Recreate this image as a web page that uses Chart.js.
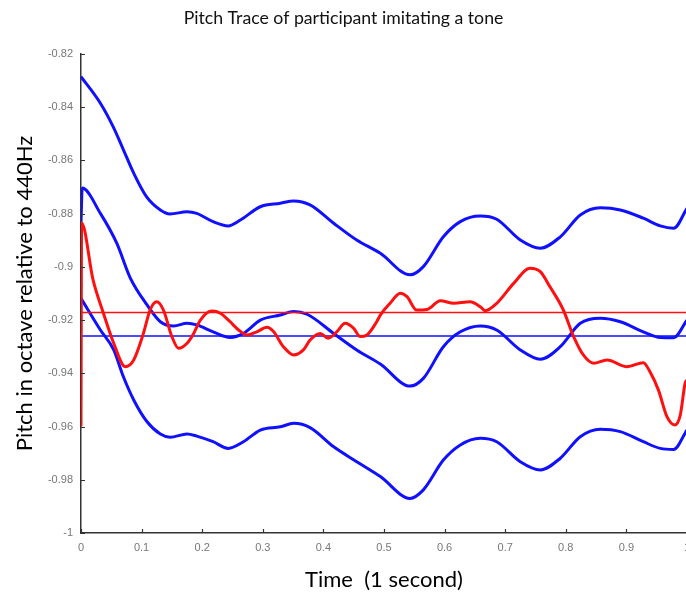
<!DOCTYPE html>
<html><head><meta charset="utf-8">
<script src="https://cdn.jsdelivr.net/npm/chart.js@4/dist/chart.umd.min.js"></script>
<style>
html,body{margin:0;padding:0;background:#fff;overflow:hidden;width:686px;height:594px;}
canvas{display:block;}
</style></head><body>
<canvas id="c" width="698" height="594" style="width:698px;height:594px;"></canvas>
<script>
const xTicks=[0,0.1,0.2,0.3,0.4,0.5,0.6,0.7,0.8,0.9,1];
const yTicks=[-1,-0.98,-0.96,-0.94,-0.92,-0.9,-0.88,-0.86,-0.84,-0.82];

const upperT=[0,0.032,0.053,0.070,0.087,0.108,0.131,0.147,0.175,0.191,0.218,0.243,0.263,0.296,0.329,0.351,0.378,0.417,0.455,0.494,0.543,0.565,0.598,0.626,0.659,0.686,0.725,0.758,0.791,0.824,0.857,0.890,0.928,0.956,0.978,1.0];
const upperV=[-0.8285,-0.8385,-0.8473,-0.856,-0.8648,-0.8736,-0.8786,-0.8801,-0.8793,-0.8799,-0.883,-0.8846,-0.8824,-0.8774,-0.8761,-0.8752,-0.8767,-0.8836,-0.8899,-0.8949,-0.903,-0.8999,-0.8887,-0.883,-0.8809,-0.8821,-0.8899,-0.893,-0.8887,-0.8805,-0.8778,-0.8786,-0.8817,-0.8846,-0.8855,-0.878];

const midT=[0,0.002,0.032,0.059,0.081,0.109,0.131,0.153,0.175,0.191,0.218,0.246,0.268,0.296,0.329,0.351,0.373,0.417,0.455,0.494,0.543,0.565,0.598,0.626,0.659,0.686,0.725,0.758,0.791,0.824,0.857,0.890,0.928,0.956,0.978,1.0];
const midV=[-0.8835,-0.8704,-0.8799,-0.8911,-0.904,-0.9143,-0.9206,-0.9222,-0.9212,-0.9218,-0.9244,-0.9265,-0.925,-0.92,-0.9181,-0.9168,-0.9178,-0.925,-0.9312,-0.9365,-0.9448,-0.9419,-0.93,-0.9244,-0.9222,-0.9237,-0.9312,-0.9347,-0.93,-0.9212,-0.9193,-0.9206,-0.9244,-0.9265,-0.9266,-0.92];

const lowT=[0,0.032,0.054,0.070,0.087,0.109,0.131,0.147,0.175,0.191,0.218,0.243,0.268,0.296,0.329,0.351,0.378,0.417,0.455,0.494,0.543,0.565,0.598,0.626,0.659,0.686,0.725,0.758,0.791,0.824,0.857,0.890,0.928,0.956,0.978,1.0];
const lowV=[-0.9118,-0.9237,-0.9312,-0.9413,-0.95,-0.9582,-0.9628,-0.964,-0.9628,-0.9636,-0.9657,-0.9682,-0.9657,-0.9613,-0.9601,-0.9588,-0.9604,-0.9676,-0.9732,-0.9788,-0.987,-0.9838,-0.9726,-0.9669,-0.9644,-0.9657,-0.9732,-0.9763,-0.9719,-0.9638,-0.961,-0.9619,-0.9657,-0.9682,-0.9686,-0.9613];

const redT=[0,0.001,0.020,0.037,0.054,0.073,0.087,0.103,0.114,0.125,0.136,0.150,0.161,0.175,0.186,0.197,0.216,0.230,0.246,0.260,0.274,0.290,0.307,0.318,0.334,0.351,0.367,0.378,0.395,0.408,0.422,0.436,0.450,0.461,0.472,0.488,0.494,0.510,0.527,0.538,0.554,0.571,0.593,0.615,0.642,0.659,0.667,0.686,0.714,0.741,0.758,0.774,0.796,0.813,0.829,0.846,0.868,0.901,0.928,0.939,0.953,0.967,0.980,0.989,0.997,1.0];
const redV=[-0.96,-0.8835,-0.905,-0.9174,-0.9287,-0.9375,-0.935,-0.925,-0.9162,-0.9131,-0.9162,-0.9262,-0.9306,-0.9287,-0.925,-0.92,-0.9166,-0.9174,-0.9206,-0.9237,-0.9256,-0.9244,-0.9227,-0.9244,-0.93,-0.9331,-0.9312,-0.9275,-0.925,-0.9268,-0.9244,-0.9212,-0.9231,-0.9262,-0.9256,-0.9206,-0.9181,-0.9137,-0.9099,-0.9112,-0.9162,-0.916,-0.9127,-0.9137,-0.9131,-0.915,-0.9165,-0.9137,-0.9062,-0.9005,-0.9018,-0.9075,-0.9162,-0.9262,-0.9331,-0.9362,-0.935,-0.9375,-0.936,-0.9394,-0.9463,-0.9563,-0.9594,-0.9557,-0.9437,-0.9425];

const meanT=[0,1];
const redMeanV=[-0.9171,-0.9171];
const blueMeanV=[-0.926,-0.926];

const zip=(t,v)=>t.map((x,i)=>({x:x,y:v[i]}));
const BLUE='#1010ff', RED='#ff1010';

const inwardTicks={id:'inwardTicks',afterDatasetsDraw(chart){
  const {ctx,chartArea:a,scales:{x,y}}=chart;
  ctx.save();ctx.strokeStyle='#333';ctx.lineWidth=1.2;ctx.beginPath();
  xTicks.forEach(v=>{const px=Math.round(x.getPixelForValue(v))+0.5;ctx.moveTo(px,a.bottom);ctx.lineTo(px,a.bottom-4);});
  yTicks.forEach(v=>{const py=Math.round(y.getPixelForValue(v))+0.5;ctx.moveTo(a.left,py);ctx.lineTo(a.left+4,py);});
  ctx.stroke();ctx.restore();
}};

const fmt=v=>String(+Number(v).toFixed(2));
const line=(data,color,w)=>({data:data,borderColor:color,borderWidth:w,pointRadius:0,fill:false,cubicInterpolationMode:'monotone'});

new Chart(document.getElementById('c'),{
  type:'line',
  data:{datasets:[
    line(zip(redT,redV),RED,3),
    line(zip(meanT,redMeanV),RED,1.5),
    line(zip(meanT,blueMeanV),BLUE,1.5),
    line(zip(upperT,upperV),BLUE,3),
    line(zip(midT,midV),BLUE,3),
    line(zip(lowT,lowV),BLUE,3)
  ]},
  options:{
    responsive:false,maintainAspectRatio:false,animation:false,devicePixelRatio:1,
    layout:{padding:{left:0,right:11,top:0,bottom:0}},
    plugins:{
      legend:{display:false},tooltip:{enabled:false},
      title:{display:true,text:'Pitch Trace of participant imitating a tone',color:'#111',
        font:{family:'Lato',size:17.7,weight:'normal'},padding:{top:7.9,bottom:24.86}}
    },
    scales:{
      x:{type:'linear',min:0,max:1,
        afterBuildTicks:s=>{s.ticks=xTicks.map(v=>({value:v}));},
        afterFit:s=>{s.height=61;},
        grid:{display:false,drawTicks:false},
        border:{display:true,color:'#333',width:1.5},
        ticks:{color:'#777',padding:8,font:{family:'Liberation Sans',size:11},callback:fmt,maxRotation:0,autoSkip:false},
        title:{display:true,text:'Time  (1 second)',color:'#000',font:{family:'Lato',size:22},padding:{top:0,bottom:0.8}}
      },
      y:{type:'linear',min:-1,max:-0.82,
        afterBuildTicks:s=>{s.ticks=yTicks.map(v=>({value:v}));},
        afterFit:s=>{s.width=81;},
        grid:{display:false,drawTicks:false},
        border:{display:true,color:'#333',width:1.5},
        ticks:{color:'#777',padding:8,font:{family:'Liberation Sans',size:11},callback:fmt,autoSkip:false},
        title:{display:true,text:'Pitch in octave relative to 440Hz',color:'#000',font:{family:'Lato',size:22},padding:{top:11.8,bottom:0}}
      }
    }
  },
  plugins:[inwardTicks]
});
</script>
</body></html>
